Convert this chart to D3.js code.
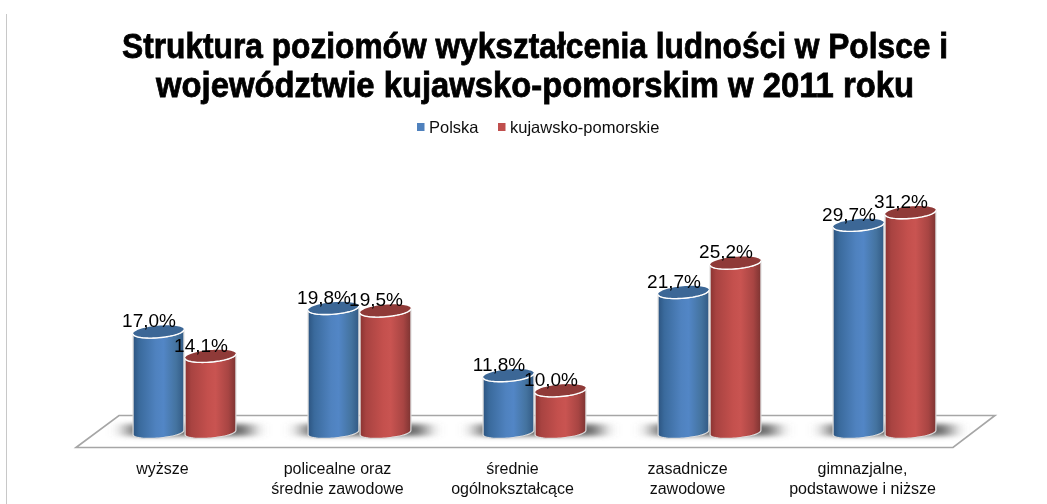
<!DOCTYPE html>
<html><head><meta charset="utf-8">
<script src="https://cdn.jsdelivr.net/npm/d3@7/dist/d3.min.js"></script>
<style>html,body{margin:0;padding:0;background:#fff}svg{display:block}</style>
</head><body><div id="chart"></div>
<script>
const titleLines = ["Struktura poziomów wykształcenia ludności w Polsce i", "województwie kujawsko-pomorskim w 2011 roku"];
const categories = ["wyższe", "policealne oraz|średnie zawodowe", "średnie|ogólnokształcące", "zasadnicze|zawodowe", "gimnazjalne,|podstawowe i niższe"];
const seriesNames = ["Polska", "kujawsko-pomorskie"];
const polska = [17.0, 19.8, 11.8, 21.7, 29.7];
const kujawsko = [14.1, 19.5, 10.0, 25.2, 31.2];
const fmt = v => v.toFixed(1).replace(".", ",") + "%";

const W = 1047, H = 504;
const svg = d3.select("#chart").append("svg").attr("width", W).attr("height", H);
const defs = svg.append("defs");

function cylGrad(id, stops) {
  const g = defs.append("linearGradient").attr("id", id);
  stops.forEach(([o, c]) => g.append("stop").attr("offset", o).attr("stop-color", c));
}
cylGrad("gBlue", [[0, "#2c5480"], [0.12, "#3a6a9c"], [0.45, "#4f82bf"], [0.6, "#5286c6"], [0.85, "#44739f"], [1, "#325a84"]]);
cylGrad("gRed", [[0, "#8a3331"], [0.12, "#a84341"], [0.45, "#c4504d"], [0.6, "#c95451"], [0.85, "#a84543"], [1, "#7d3432"]]);
defs.append("filter").attr("id", "soft").attr("x", "-5%").attr("y", "-20%").attr("width", "110%").attr("height", "140%")
  .append("feGaussianBlur").attr("stdDeviation", 0.5);
const sh = defs.append("filter").attr("id", "shadow").attr("x", "-30%").attr("y", "-80%").attr("width", "160%").attr("height", "260%");
sh.append("feGaussianBlur").attr("stdDeviation", "9 2.5");

svg.append("line").attr("x1", 6.5).attr("x2", 6.5).attr("y1", 14).attr("y2", H).attr("stroke", "#c8c8c8");

const x0 = d3.scaleBand().domain(categories).range([97, 972]).padding(0);
const x1 = d3.scaleBand().domain(seriesNames).range([-51.5, 52.5]).padding(0);
const y = d3.scaleLinear().domain([5, 35]).range([432.5, 180.5]);

svg.append("path").attr("d", d3.line()([[76, 447.5], [119, 415.5], [995, 415.5], [953, 447.5]]) + "Z")
  .attr("fill", "#fff").attr("stroke", "#a6a6a6").attr("stroke-width", 1.6);

svg.append("g").selectAll("rect").data(categories).join("rect")
  .attr("x", d => x0(d) + 30).attr("width", 124).attr("y", 424).attr("height", 12)
  .attr("fill", "#666").attr("filter", "url(#shadow)");

const rows = [];
categories.forEach((c, i) => {
  rows.push({ c, s: seriesNames[0], v: polska[i], grad: "gBlue", cap: "#3c6796" });
  rows.push({ c, s: seriesNames[1], v: kujawsko[i], grad: "gRed", cap: "#8f3a38" });
});
const bw = x1.bandwidth();
const rx = bw / 2 - 0.5, capRy = 6, baseRy = 5.5, tiltRad = -5 * Math.PI / 180;
const barX = d => x0(d.c) + x0.bandwidth() / 2 + x1(d.s);

const ept = (a, cy, ry) => {
  const ex = rx * Math.cos(a), ey = ry * Math.sin(a);
  return [rx + ex * Math.cos(tiltRad) - ey * Math.sin(tiltRad), cy + ex * Math.sin(tiltRad) + ey * Math.cos(tiltRad)];
};
const arcAngles = d3.range(0, 37).map(i => i * Math.PI / 36);
const fullAngles = d3.range(0, 72).map(i => i * Math.PI / 36);
const lineGen = d3.line();

const bars = svg.append("g").selectAll("g").data(rows).join("g")
  .attr("transform", d => `translate(${barX(d)},0)`);

bars.append("path").attr("fill", d => `url(#${d.grad})`).attr("stroke", "#dcdcdc").attr("stroke-width", 1.2)
  .attr("d", d => {
    const bottom = arcAngles.map(a => ept(a, y(5), baseRy));
    const top = arcAngles.map(a => ept(a, y(d.v), capRy)).reverse();
    return lineGen(bottom.concat(top)) + "Z";
  });
bars.append("path").attr("fill", d => d.cap).attr("stroke", "none")
  .attr("d", d => lineGen(fullAngles.map(a => ept(a, y(d.v), capRy))) + "Z");
bars.append("path").attr("fill", "none").attr("stroke", "#fff").attr("stroke-width", 1.4)
  .attr("d", d => lineGen(arcAngles.map(a => ept(a, y(d.v), capRy))));

svg.append("g").attr("filter", "url(#soft)").selectAll("text").data(rows).join("text")
  .attr("x", d => barX(d) + bw / 2 - 10).attr("y", d => y(d.v) - 4.5)
  .attr("text-anchor", "middle").attr("font-family", "Liberation Sans").attr("font-size", 19).attr("fill", "#000")
  .text(d => fmt(d.v));

const cat = svg.append("g").attr("filter", "url(#soft)").selectAll("text").data(categories).join("text")
  .attr("text-anchor", "middle").attr("font-family", "Liberation Sans").attr("font-size", 16).attr("fill", "#111")
  .attr("transform", d => `translate(${x0(d) + x0.bandwidth() / 2 - 22},0)`);
cat.selectAll("tspan").data(d => d.split("|")).join("tspan")
  .attr("x", 0).attr("y", (d, i) => 474 + i * 19.5).text(d => d);

const titleWidths = [826, 758];
svg.append("g").attr("filter", "url(#soft)").selectAll("text").data(titleLines).join("text")
  .attr("x", 535).attr("y", (d, i) => 58 + i * 39).attr("text-anchor", "middle")
  .attr("font-family", "Liberation Sans").attr("font-weight", 700).attr("font-size", 35).attr("fill", "#000")
  .attr("textLength", (d, i) => titleWidths[i]).attr("lengthAdjust", "spacingAndGlyphs")
  .attr("stroke", "#000").attr("stroke-width", 0.8)
  .text(d => d);

const legX = [417, 498];
const leg = svg.append("g").attr("filter", "url(#soft)").selectAll("g").data(seriesNames).join("g")
  .attr("transform", (d, i) => `translate(${legX[i]},123)`);
leg.append("rect").attr("width", 7.5).attr("height", 8).attr("fill", (d, i) => i ? "#c0504d" : "#4f81bd");
leg.append("text").attr("x", 12).attr("y", 10).attr("font-family", "Liberation Sans").attr("font-size", 16.5).attr("fill", "#111").text(d => d);
</script></body></html>
